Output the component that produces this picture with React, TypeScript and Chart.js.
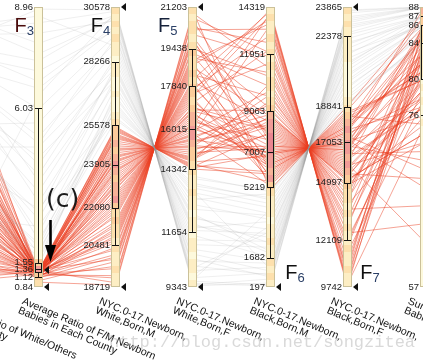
import React, { useEffect, useRef } from "react";
import { Chart, registerables } from "chart.js";

Chart.register(...registerables);

// ---- axes ----
const axisTitles: string[][] = [
  ["Average Ratio of White/Others", "in Each County"],
  ["Average Ratio of F/M Newborn", "Babies in Each County"],
  ["NYC.0-17.Newborn,", "White,Born,M"],
  ["NYC.0-17.Newborn,", "White,Born,F"],
  ["NYC.0-17.Newborn,", "Black,Born,M"],
  ["NYC.0-17.Newborn,", "Black,Born,F"],
  ["Sum of Newborn", "Babies"],
];
const axisPos = [0, 1, 2, 3, 4, 5, 6];
const axisMin = [0, 0.84, 18719, 9343, 197, 9742, 57];
const axisMax = [100, 8.96, 30578, 21203, 14319, 23865, 88];

const boxLow = [NaN, 1.12, 20481, 11654, 1682, 12109, 76];
const boxQ1 = [NaN, 1.28, 22080, 14342, 5219, 14997, 80];
const boxMedian = [NaN, 1.36, 23905, 16015, 7007, 17053, 84];
const boxQ3 = [NaN, 1.55, 25578, 17840, 9063, 18841, 86];
const boxHigh = [NaN, 6.03, 28266, 19438, 11951, 22378, 87];

const brushHigh = [NaN, 1.33, 30578, 21203, NaN, 23865, NaN];
const brushLow = [NaN, 0.84, 18719, 9343, 197, 9742, NaN];

const f3Ticks = ["8.96", "6.03", "1.55", "1.36", "1.12", "0.84"];
const f4Ticks = ["30578", "28266", "25578", "23905", "22080", "20481", "18719"];
const f5Ticks = ["21203", "19438", "17840", "16015", "14342", "11654", "9343"];
const f6Ticks = ["14319", "11951", "9063", "7007", "5219", "1682", "197"];
const f7Ticks = ["23865", "22378", "18841", "17053", "14997", "12109", "9742"];
const f8Ticks = ["88", "87", "86", "84", "80", "76", "57"];

// density bins along each axis, top to bottom (0 = none .. 6 = dense)
const f3Heat = [0,0,0,0,0,0,0,0,0,0, 0,0,0,0,0,0,0,0,0,0, 0,0,0,0,0,0,0,0,0,0, 0,0,0,0,0,0,3,5,3,2];
const f4Heat = [2,1,2,1,2,1,1,0,1,1, 0,0,1,0,0,1,2,3,3,4, 3,4,5,4,3,4,4,5,3,2, 3,2,2,1,2,1,1,2,1,1];
const f5Heat = [2,1,2,2,1,2,3,2,2,3, 2,3,3,2,3,4,4,5,5,4, 3,3,2,2,1,1,2,1,1,0, 1,1,0,1,1,0,1,1,0,1];
const f6Heat = [1,2,1,1,2,1,2,1,2,1, 2,2,1,2,3,4,5,5,6,6, 6,5,5,4,5,3,2,1,1,1, 0,1,1,2,1,1,2,1,2,1];
const f7Heat = [2,1,2,1,1,1,1,1,0,0, 0,0,0,1,2,3,4,5,4,5, 5,4,5,4,3,3,2,2,1,2, 1,2,1,1,2,1,1,2,1,1];
const f8Heat = [4,3,3,2,2,1,1,1,1,1, 0,1,0,1,0,0,1,0,0,0, 0,0,0,0,0,0,0,0,0,0, 0,0,0,0,0,0,0,0,0,0];

// ---- records: selected (red) ----
const redF2 = [52,18,35,8,44,27,61,12,38,22, 70,5,30,47,15,56,25,40,10,33, 65,20,50,3,42,28,75,14,36,58, 24,46,9,31,68,19,54,2,39,26, 80,16,48,34,7,60,21,43,29,11,
  45,13,37,23,57,6,32,50,17,41, 63,26,4,35,53,20,72,30,9,44];
const redF3 = [1.30,1.22,1.27,1.12,1.25,1.32,1.18,1.28,1.24,1.31, 1.15,1.29,1.33,1.21,1.26,1.08,1.23,1.30,1.19,1.27, 1.32,1.24,1.14,1.29,1.26,1.02,1.31,1.20,1.28,1.17, 1.25,1.30,1.16,1.27,0.98,1.23,1.31,1.21,1.28,1.33, 1.13,1.26,1.29,1.22,1.30,1.19,1.27,1.10,1.24,1.29,
  1.26,1.31,1.20,1.28,1.23,1.32,1.17,1.29,1.25,1.11, 1.30,1.22,1.27,1.05,1.33,1.24,1.28,1.19,1.31,1.26];
const redF4 = [24800,19500,23100,21200,25300,22400,20100,24200,23600,18900, 22900,25500,21700,24500,20600,23300,25100,22100,19200,24000, 21500,23800,20900,25400,22600,19800,24600,23000,21000,24300, 22200,25200,20400,23500,18800,24100,22700,21400,25000,23200, 19600,24700,21900,23900,20700,25350,22300,24400,21100,23700,
  23400,20300,24900,22500,19100,25450,21800,24050,22850,20000, 25150,23050,21300,24550,19900,23650,22000,25050,20800,24250];
const redF5 = [15039,20339,16739,18639,14539,17439,19739,15639,16239,20939, 16939,14339,18139,15339,19239,16539,14739,17739,20639,15839, 18339,16039,18939,14439,17239,20039,15239,16839,18839,15539, 17639,14639,19439,16339,21039,15739,17139,18439,14839,16639, 20239,15139,17939,15939,19139,14489,17539,15439,18739,16139,
  16439,19539,14939,17339,20739,14389,18039,15789,16989,19839, 14689,16789,18539,15289,19939,16189,17839,14789,19039,15589];
const redF6 = [7200,12500,6100,8800,5500,13900,7800,9400,6600,11200, 8200,5900,14100,7000,10300,6400,8600,12900,7500,5300, 9800,6900,13500,8000,6200,11800,7300,9100,5700,8400, 14200,6800,10800,7600,5100,8900,12200,6500,9600,7100, 13200,8300,5800,10100,7400,6000,11500,8700,13700,6300,
  6700,9200,7900,5600,12000,6900,8500,13400,7300,6100, 10500,8100,5400,9900,7700,14000,6400,8800,11000,7000];
const redF7 = [16763,11463,17863,15163,18463,10063,16163,14563,17363,12763, 15763,18063,9863,16963,13663,17563,15363,11063,16463,18663, 14163,17063,10463,15963,17763,12163,16663,14863,18263,15563, 9763,17163,13163,16363,18863,15063,11763,17463,14363,16863, 10763,15663,18163,13863,16563,17963,12463,15263,10263,17663,
  17263,14763,16063,18363,11963,17063,15463,10563,16663,17863, 13463,15863,18563,14063,16263,9963,17563,15163,12963,16963];
const redF8 = [82,78,85,74,80,86,77,83,70,84, 79,87,75,81,66,85,78,83,72,86, 80,76,84,62,82,79,86,73,81,77, 85,68,83,80,87,75,82,78,84,71, 86,79,81,76,85,83,64,80,84,77,
  83,79,86,75,81,84,69,87,78,82, 85,73,80,86,77,83,88,74,81,85];

// ---- records: other (grey) ----
const greyF2 = [85,60,92,45,75,30,95,55,70,20, 88,65,40,80,50,97,35,72,58,90, 25,68,83,48,77,15,62,93,38,74, 53,86,42,66,79];
const greyF3 = [6.8,2.4,8.5,3.1,5.2,1.9,7.6,2.8,4.4,1.6, 8.9,3.6,2.1,6.0,4.9,7.9,1.7,3.3,5.6,8.2, 2.6,4.1,7.1,1.8,3.9,6.4,2.2,8.7,1.45,5.0, 3.0,7.4,2.0,4.6,6.6];
const greyF4 = [29800,27200,30400,26100,28700,25800,30100,27600,28300,26500, 30450,27900,26800,29400,28000,30250,26300,27400,29100,30000, 25900,28500,29600,26700,27800,30350,26200,28900,27000,29300, 28100,30200,26400,27500,29700];
const greyF5 = [10039,12639,9439,13739,11139,14039,9739,12239,11539,13339, 9389,11939,13039,10439,11839,9589,13539,12439,10739,9839, 13939,11339,10239,13139,12039,9489,13639,10939,12839,10539, 11739,9639,13439,12339,10139];
const greyF6 = [1200,3800,600,4600,2200,5000,900,3100,1700,4200, 400,2700,4900,1400,3500,300,4400,2000,1000,3300, 5100,2500,800,3900,1900,250,4700,1500,3600,700, 2900,4100,1100,2400,3000];
const greyF7 = [22763,20163,23363,19363,21763,18963,23063,20863,22263,19763, 23563,21263,19063,22563,20463,23663,19563,21963,22963,20663, 18863,21463,23163,20063,22063,23713,19263,22463,20363,23263, 21063,19863,22863,21563,20963];
const greyF8 = [87.5,86,88,85,87,84.5,88,86.5,87,85.5, 88,86,84,87.5,86,88,85,87,87.5,86.5, 84.5,87,88,85.5,86.5,88,84,87,86,88, 86.5,85,87.5,86,87];

const tickLabels = [[], f3Ticks, f4Ticks, f5Ticks, f6Ticks, f7Ticks, f8Ticks];
const heatBins = [[], f3Heat, f4Heat, f5Heat, f6Heat, f7Heat, f8Heat];

// ---- styles ----
const heatColors = ["#fdf9dc", "#fdeec4", "#fde0ad", "#fbcc9a", "#f7b398", "#f19b97", "#ea8590"];
const RED = "rgba(234,62,34,0.48)";
const GREY = "rgba(150,150,150,0.15)";
const SANS = '"Liberation Sans", Arial, sans-serif';
const fMarks = [
  { axis: 1, sub: "3", dx: -24, y: 32, fColor: "#4a0c0c" },
  { axis: 2, sub: "4", dx: -25, y: 32, fColor: "#101010" },
  { axis: 3, sub: "5", dx: -35, y: 32, fColor: "#15213a" },
  { axis: 4, sub: "6", dx: 15, y: 279, fColor: "#101010" },
  { axis: 5, sub: "7", dx: 13, y: 279, fColor: "#101010" },
];

function norm(a: number, v: number) {
  return (v - axisMin[a]) / (axisMax[a] - axisMin[a]);
}

function makeDatasets(cols: number[][], color: string) {
  const out: any[] = [];
  for (let r = 0; r < cols[0].length; r++) {
    out.push({
      data: cols.map((col, a) => ({ x: axisPos[a], y: norm(a, col[r]) })),
      borderColor: color,
      borderWidth: 1,
      pointRadius: 0,
      tension: 0,
      fill: false,
    });
  }
  return out;
}

const overlayPlugin = {
  id: "pcOverlay",
  afterDatasetsDraw(chart: any) {
    const { ctx, scales } = chart;
    const xs = scales.x, ys = scales.y;
    const yTop = ys.getPixelForValue(1), yBot = ys.getPixelForValue(0);
    ctx.save();
    for (let a = 1; a < axisMin.length; a++) {
      const cx = xs.getPixelForValue(axisPos[a]);
      const bl = Math.round(cx - 4.5);
      const br = bl + 9;
      const heat = heatBins[a];
      const n = heat.length;
      for (let i = 0; i < n; i++) {
        const y0 = Math.floor(ys.getPixelForValue(1 - i / n));
        const y1 = Math.ceil(ys.getPixelForValue(1 - (i + 1) / n));
        ctx.fillStyle = heatColors[heat[i]];
        ctx.fillRect(bl, y0, 9, y1 - y0);
      }
      ctx.lineWidth = 1;
      ctx.strokeStyle = "#cbc199";
      ctx.strokeRect(bl + 0.5, Math.round(yTop) + 0.5, 8, Math.round(yBot - yTop) - 1);

      const py = (v: number) => Math.round(ys.getPixelForValue(norm(a, v))) + 0.5;
      const hi = py(boxHigh[a]), q3 = py(boxQ3[a]), md = py(boxMedian[a]), q1 = py(boxQ1[a]), lo = py(boxLow[a]);
      const mx = bl + 4.5;
      ctx.strokeStyle = "#141414";
      ctx.beginPath();
      ctx.moveTo(mx, hi); ctx.lineTo(mx, q3);
      ctx.moveTo(mx, q1); ctx.lineTo(mx, lo);
      ctx.moveTo(bl + 1, hi); ctx.lineTo(br - 1, hi);
      ctx.moveTo(bl + 1, lo); ctx.lineTo(br - 1, lo);
      ctx.moveTo(bl + 1, md); ctx.lineTo(br - 1, md);
      ctx.stroke();
      ctx.strokeRect(bl + 1.5, q3, 6, q1 - q3);

      ctx.fillStyle = "#111";
      const tri = (v: number) => {
        if (isNaN(v)) return;
        const y = ys.getPixelForValue(norm(a, v));
        ctx.beginPath();
        ctx.moveTo(br + 1, y);
        ctx.lineTo(br + 6, y - 4);
        ctx.lineTo(br + 6, y + 4);
        ctx.closePath();
        ctx.fill();
      };
      tri(brushHigh[a]);
      tri(brushLow[a]);

      ctx.font = "9.5px " + SANS;
      ctx.textAlign = "right";
      ctx.textBaseline = "middle";
      ctx.fillStyle = "#222";
      for (const s of tickLabels[a]) {
        const y = ys.getPixelForValue(norm(a, parseFloat(s)));
        ctx.fillText(s, bl - 1, y);
      }
    }
    // rotated axis titles
    ctx.font = "10.5px " + SANS;
    ctx.textAlign = "left";
    ctx.textBaseline = "top";
    ctx.fillStyle = "#111";
    for (let a = 0; a < axisTitles.length; a++) {
      const cx = xs.getPixelForValue(axisPos[a]);
      ctx.save();
      ctx.translate(cx - 14, yBot + 9);
      ctx.rotate((23 * Math.PI) / 180);
      ctx.fillText(axisTitles[a][0], 0, 0);
      ctx.fillText(axisTitles[a][1], 0, 10);
      ctx.restore();
    }
    ctx.restore();
  },
  afterDraw(chart: any) {
    const { ctx, scales } = chart;
    const xs = scales.x;
    ctx.save();
    ctx.textAlign = "left";
    ctx.textBaseline = "alphabetic";
    for (const m of fMarks) {
      const x = xs.getPixelForValue(axisPos[m.axis]) + m.dx;
      ctx.font = "20px " + SANS;
      ctx.fillStyle = m.fColor;
      ctx.fillText("F", x, m.y);
      const w = ctx.measureText("F").width;
      ctx.font = "13px " + SANS;
      ctx.fillStyle = "#2a3f66";
      ctx.fillText(m.sub, x + w, m.y + 3);
    }
    // (c) annotation + arrow
    ctx.font = '25px "DejaVu Sans", sans-serif';
    ctx.fillStyle = "#1a1a1a";
    ctx.fillText("(c)", 46, 207);
    ctx.strokeStyle = "#000";
    ctx.lineWidth = 2.6;
    ctx.beginPath();
    ctx.moveTo(50.5, 220);
    ctx.lineTo(50.5, 248);
    ctx.stroke();
    ctx.fillStyle = "#000";
    ctx.beginPath();
    ctx.moveTo(45, 245);
    ctx.lineTo(56, 245);
    ctx.lineTo(50.5, 262);
    ctx.closePath();
    ctx.fill();
    // watermark
    ctx.font = '17px "Liberation Mono", monospace';
    ctx.fillStyle = "rgba(170,170,170,0.45)";
    ctx.textBaseline = "middle";
    ctx.fillText("http://blog.csdn.net/songzitea", 109, 342);
    ctx.restore();
  },
};

export default function App() {
  const ref = useRef<HTMLCanvasElement | null>(null);
  useEffect(() => {
    if (!ref.current) return;
    const datasets = [
      ...makeDatasets([greyF2, greyF3, greyF4, greyF5, greyF6, greyF7, greyF8], GREY),
      ...makeDatasets([redF2, redF3, redF4, redF5, redF6, redF7, redF8], RED),
    ];
    const chart = new Chart(ref.current, {
      type: "line",
      data: { datasets },
      options: {
        animation: false,
        responsive: false,
        devicePixelRatio: 1,
        events: [],
        layout: { padding: { top: 7, bottom: 74, left: 0, right: 0 } },
        scales: {
          x: { type: "linear", min: 0.5, max: 5.98, display: false },
          y: { type: "linear", min: 0, max: 1, display: false },
        },
        plugins: { legend: { display: false }, tooltip: { enabled: false } },
      },
      plugins: [overlayPlugin],
    } as any);
    return () => chart.destroy();
  }, []);
  return (
    <div style={{ position: "fixed", left: 0, top: 0, width: 423, height: 361, background: "#fff" }}>
      <canvas ref={ref} width={423} height={361} style={{ display: "block" }} />
    </div>
  );
}
